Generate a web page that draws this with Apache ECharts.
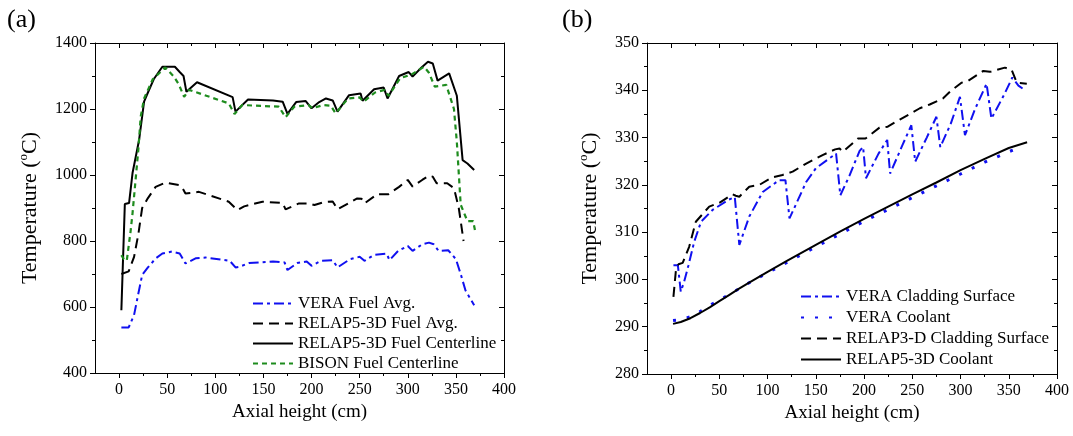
<!DOCTYPE html>
<html>
<head>
<meta charset="utf-8">
<script src="https://cdn.jsdelivr.net/npm/echarts@6/dist/echarts.min.js"></script>
<style>
  html, body { margin: 0; padding: 0; background: #fff; }
  #main { width: 1073px; height: 436px; }
</style>
</head>
<body>
<div id="main"></div>
<script>
// ---- panel (a): fuel temperatures ----
var vfaX = [2.4, 10, 15.6, 20, 24, 30, 38, 45, 55, 63, 69, 80, 90, 115, 121, 125, 135, 160, 172, 175, 185, 195, 200, 210, 222, 227, 240, 250, 255, 265, 278, 281, 290, 300, 305, 315, 322, 327, 332, 342, 350, 355, 360, 365, 369];
var vfaY = [538, 538, 576, 640, 697, 720, 747, 762, 768, 762, 732, 748, 750, 740, 720, 722, 733, 738, 735, 712, 733, 738, 725, 740, 742, 720, 745, 752, 740, 758, 762, 742, 770, 785, 770, 790, 795, 790, 770, 772, 745, 700, 650, 625, 605];

var rfaX = [2.4, 10, 12, 15.6, 20, 24, 30, 38, 48.5, 62, 66, 69, 83, 114, 123, 130, 149, 170, 173, 187, 197, 203, 213, 222, 227, 247.5, 252, 255, 268.5, 280, 291, 300, 305, 315, 322, 326, 330, 341, 348, 353, 358];
var rfaY = [700, 708, 708, 752, 820, 900, 930, 964, 977, 970, 960, 944, 949, 919, 894, 905, 919, 915, 896, 914, 914, 909, 918, 920, 896, 929, 928, 914, 942, 942, 964, 985, 965, 985, 998, 995, 975, 975, 960, 900, 800];

var rfcX = [2.4, 6, 10.4, 14, 20.8, 26, 30, 36, 45, 58, 63, 67, 70, 81, 118, 121, 134, 160, 170, 175, 184, 194, 200, 208, 215, 222, 227, 239, 251, 253, 265, 275, 279, 291, 301, 305, 314, 321, 326, 331, 343, 351, 357, 362, 369];
var rfcY = [590, 912, 915, 1006, 1106, 1222, 1250, 1290, 1328, 1328, 1312, 1300, 1252, 1281, 1236, 1192, 1229, 1226, 1222, 1185, 1221, 1224, 1202, 1221, 1232, 1226, 1192, 1242, 1247, 1225, 1260, 1265, 1232, 1300, 1312, 1298, 1325, 1343, 1338, 1286, 1308, 1240, 1045, 1035, 1015];

var bisX = [2.4, 5, 8, 12, 14, 17, 20, 22.5, 26, 35, 48, 57, 62, 67.6, 72.8, 114, 120, 128, 166, 173, 182, 197, 201, 212, 220, 225, 238, 250, 254, 266, 276, 280, 292, 304, 317, 322, 328, 340, 348, 351, 355, 362, 368, 370];
var bisY = [757, 745, 740, 830, 884, 980, 1076, 1177, 1232, 1290, 1326, 1298, 1275, 1237, 1258, 1217, 1185, 1212, 1207, 1175, 1207, 1212, 1202, 1212, 1210, 1187, 1232, 1235, 1222, 1250, 1258, 1240, 1293, 1305, 1328, 1310, 1268, 1273, 1200, 1100, 910, 860, 860, 830];

// ---- panel (b): cladding / coolant temperatures ----
var vcsX = [2.4, 7, 10, 13.5, 18, 24, 31, 43, 60, 66, 70.7, 81, 95, 112, 118.5, 122.7, 140, 150, 164, 171, 175.4, 185, 195.4, 199, 202, 215, 224, 227, 240, 249, 253, 265, 275, 279, 290, 299.4, 304.6, 315, 327, 332, 345, 353.7, 360, 367];
var vcsY = [303, 303, 297.4, 299.5, 303, 308, 312.2, 314.7, 316.9, 317.4, 307.3, 313.3, 318.5, 321, 321, 312.9, 320.6, 323.5, 325.6, 326.6, 317.8, 322, 327.2, 328, 321.4, 326.6, 329.5, 322.4, 328.5, 332.6, 324.9, 330, 334.4, 328, 333, 338.6, 330.5, 336, 341.4, 334, 339, 342.7, 341, 340];

var vcoX = [2, 10, 20, 30, 40, 50, 60, 70, 80, 100, 120, 150, 175, 200, 225, 250, 275, 300, 325, 350, 360];
var vcoY = [291.3, 291.5, 292.1, 293.2, 294.5, 295.6, 296.8, 298.0, 299.2, 301.4, 303.6, 306.9, 309.6, 312.3, 314.8, 317.3, 319.8, 322.3, 324.8, 327.0, 327.8];

var rcsX = [2.4, 5, 7.6, 12, 18.7, 25.6, 39.5, 50, 63.7, 67, 70.7, 81, 91.5, 105, 115.5, 126, 140, 157, 170, 174.6, 178, 193.7, 201.5, 216, 224.5, 237, 257.8, 268, 282, 289, 301, 308, 323.6, 330.5, 346, 353, 358.3, 368.7];
var rcsY = [296.3, 302, 303.2, 303.5, 306.9, 312.2, 315.4, 316.2, 318, 317.7, 317.5, 319.6, 320, 321.6, 322.1, 322.8, 324.5, 326.3, 327.5, 327.7, 327, 329.8, 329.8, 332.1, 332.3, 333.8, 336.2, 337, 338.3, 339.7, 341.6, 342, 344.1, 343.9, 344.8, 344.3, 341.6, 341.4];

var rcoX = [2, 10, 20, 30, 40, 50, 60, 70, 80, 100, 120, 150, 175, 200, 225, 250, 275, 300, 325, 350, 369];
var rcoY = [290.6, 291.0, 291.8, 292.9, 294.1, 295.4, 296.7, 298.0, 299.2, 301.6, 303.9, 307.3, 310.1, 312.8, 315.4, 318.0, 320.5, 323.1, 325.5, 327.8, 329.0];

var majorX = [0, 50, 100, 150, 200, 250, 300, 350, 400];
var minorX = [25, 75, 125, 175, 225, 275, 325, 375];

var FONT = 'Liberation Serif';
var BLUE = '#1010f0';
var GREEN = '#1e8c1e';

function zip(xs, ys) {
  return xs.map(function (x, i) { return [x, ys[i]]; });
}

function plain(v) { return String(v); }

function xAxes(grid) {
  var base = { gridIndex: grid, type: 'value', min: -25, max: 400, splitLine: { show: false } };
  var line = { show: true, onZero: false, lineStyle: { color: '#000', width: 1 } };
  return [
    Object.assign({}, base, {
      position: 'bottom', axisLine: line,
      axisTick: { show: true, customValues: majorX, length: 5, lineStyle: { color: '#000' } },
      axisLabel: { customValues: majorX, formatter: plain, margin: 9, color: '#000', fontSize: 16, fontFamily: FONT },
      name: 'Axial height (cm)', nameLocation: 'middle', nameGap: 29,
      nameTextStyle: { color: '#000', fontSize: 19, fontFamily: FONT }
    }),
    Object.assign({}, base, {
      position: 'bottom', axisLine: { show: false, onZero: false },
      axisTick: { show: true, customValues: minorX, length: 3, lineStyle: { color: '#000' } },
      axisLabel: { show: false }
    }),
    Object.assign({}, base, {
      position: 'top', axisLine: line,
      axisTick: { show: true, inside: true, customValues: majorX, length: 5, lineStyle: { color: '#000' } },
      axisLabel: { show: false }
    }),
    Object.assign({}, base, {
      position: 'top', axisLine: { show: false, onZero: false },
      axisTick: { show: true, inside: true, customValues: minorX, length: 3, lineStyle: { color: '#000' } },
      axisLabel: { show: false }
    })
  ];
}

function yAxes(grid, min, max, step, gap) {
  var base = { gridIndex: grid, type: 'value', min: min, max: max, interval: step, splitLine: { show: false } };
  var line = { show: true, onZero: false, lineStyle: { color: '#000', width: 1 } };
  return [
    Object.assign({}, base, {
      position: 'left', axisLine: line,
      axisTick: { show: true, length: 5, lineStyle: { color: '#000' } },
      minorTick: { show: true, splitNumber: 2, length: 3, lineStyle: { color: '#000' } },
      axisLabel: { formatter: plain, margin: 8, color: '#000', fontSize: 16, fontFamily: FONT },
      name: 'Temperature ({s|o}C)', nameLocation: 'middle', nameRotate: 90, nameGap: gap,
      nameTextStyle: {
        color: '#000', fontSize: 22, fontFamily: FONT, lineHeight: 26,
        rich: { s: { fontSize: 13, fontFamily: FONT, color: '#000', verticalAlign: 'top', lineHeight: 26 } }
      }
    }),
    Object.assign({}, base, {
      position: 'right', axisLine: line,
      axisTick: { show: true, inside: true, length: 5, lineStyle: { color: '#000' } },
      minorTick: { show: true, splitNumber: 2, length: 3, lineStyle: { color: '#000' } },
      axisLabel: { show: false }
    })
  ];
}

function line(name, xs, ys, xi, yi, color, width, type) {
  return {
    name: name, type: 'line', xAxisIndex: xi, yAxisIndex: yi,
    data: zip(xs, ys), symbol: 'none', smooth: false,
    lineStyle: { color: color, width: width, type: type, cap: 'butt' },
    itemStyle: { color: color }
  };
}

var legendText = { fontSize: 17, fontFamily: FONT, color: '#000' };

var chart = echarts.init(document.getElementById('main'));
chart.setOption({
  animation: false,
  backgroundColor: '#fff',
  title: [
    { text: '(a)', left: 2, top: 2, textStyle: { fontSize: 26, fontWeight: 'normal', fontFamily: FONT, color: '#000' } },
    { text: '(b)', left: 557, top: 2, textStyle: { fontSize: 26, fontWeight: 'normal', fontFamily: FONT, color: '#000' } }
  ],
  grid: [
    { left: 95, top: 43, width: 409, height: 330 },
    { left: 647, top: 43, width: 410, height: 331 }
  ],
  legend: [
    {
      orient: 'vertical', left: 247, top: 290, itemWidth: 40, itemHeight: 12, itemGap: 3,
      itemStyle: { opacity: 0 },
      textStyle: legendText,
      data: ['VERA Fuel Avg.', 'RELAP5-3D Fuel Avg.', 'RELAP5-3D Fuel Centerline', 'BISON Fuel Centerline']
    },
    {
      orient: 'vertical', left: 795, top: 283, itemWidth: 40, itemHeight: 12, itemGap: 4,
      itemStyle: { opacity: 0 },
      textStyle: legendText,
      data: ['VERA Cladding Surface', 'VERA Coolant', 'RELAP3-D Cladding Surface', 'RELAP5-3D Coolant']
    }
  ],
  xAxis: xAxes(0).concat(xAxes(1)),
  yAxis: yAxes(0, 400, 1400, 200, 52).concat(yAxes(1, 280, 350, 10, 44)),
  series: [
    line('VERA Fuel Avg.', vfaX, vfaY, 0, 0, BLUE, 2, [10, 4, 3, 4]),
    line('RELAP5-3D Fuel Avg.', rfaX, rfaY, 0, 0, '#000', 2, [10, 6]),
    line('RELAP5-3D Fuel Centerline', rfcX, rfcY, 0, 0, '#000', 2, 'solid'),
    line('BISON Fuel Centerline', bisX, bisY, 0, 0, GREEN, 2.2, [5, 4]),
    line('VERA Cladding Surface', vcsX, vcsY, 4, 2, BLUE, 2, [10, 4, 3, 4]),
    line('VERA Coolant', vcoX, vcoY, 4, 2, BLUE, 3, [3, 11]),
    line('RELAP3-D Cladding Surface', rcsX, rcsY, 4, 2, '#000', 2, [10, 6]),
    line('RELAP5-3D Coolant', rcoX, rcoY, 4, 2, '#000', 2, 'solid')
  ]
});
</script>
</body>
</html>
